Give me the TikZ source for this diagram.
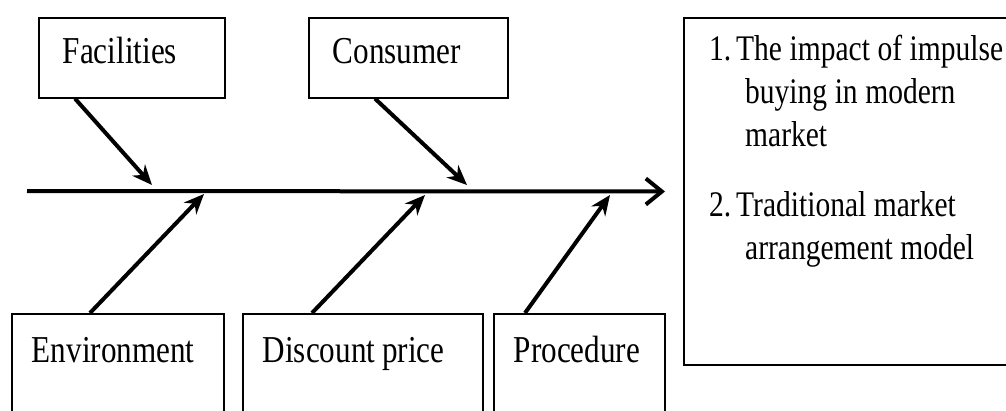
\documentclass[tikz,border=0pt]{standalone}
\usepackage{fontspec}
\setmainfont{Liberation Serif}[FakeStretch=0.82]
\usetikzlibrary{arrows.meta}
\newcommand{\narrowsp}{\spaceskip=0.21em plus 0.1em minus 0.05em\relax}
\tikzstyle{cause} = [rectangle, draw=black, line width=1.6pt, anchor=north west, inner ysep=0pt, font=\fontsize{38}{43}\selectfont]
\tikzstyle{topcause} = [cause, inner xsep=24pt, text height=46pt, text depth=34pt]
\tikzstyle{botcause} = [cause, inner xsep=20pt, text height=49pt, text depth=70pt]
\tikzstyle{effect} = [rectangle, draw=black, line width=2pt, anchor=north west, minimum width=360pt, minimum height=347pt, inner sep=0pt]
\tikzstyle{bone} = [line width=4pt, -{Stealth[length=20pt,width=17pt]}]
\tikzstyle{spine} = [line width=4pt, -{Straight Barb[length=16pt,width=26pt]}]

\begin{document}
\begin{tikzpicture}[x=1pt, y=-1pt]
\useasboundingbox (0,0) rectangle (1006,410);

% Effect box
\node (goal) [effect] at (683,17) {};
\node (aims) [anchor=base west, inner sep=0pt, font=\fontsize{36}{43}\selectfont\narrowsp] at ([xshift=26pt,yshift=-43pt]goal.north west) {%
\begin{tabular}[t]{@{}p{27pt}@{}l@{}}
1. & The impact of impulse\\
   & \hspace{9pt}buying in modern\\
   & \hspace{9pt}market\\[27pt]
2. & Traditional market\\
   & \hspace{9pt}arrangement model
\end{tabular}};

% Top causes
\node (fac) [topcause, text width=138pt] at (38,17) {Facilities};
\node (con) [topcause, text width=151pt] at (308,17) {Consumer};

% Bottom causes
\node (env) [botcause, text width=172pt] at (11,313) {Environment};
\node (dis) [botcause, text width=200pt] at (242,313) {Discount\hspace{7pt}price};
\node (pro) [botcause, text width=131pt] at (493,313) {Procedure};

% Points on the spine
\coordinate (tail) at (27,191);
\coordinate (fhit) at (152,185);
\coordinate (chit) at (467,185);
\coordinate (ehit) at (204,194);
\coordinate (dhit) at (425,195);
\coordinate (phit) at (610,195);

% Drawing arrows
\draw [spine] (tail) -- ([xshift=-18pt]goal.west);
\draw [bone] ([xshift=37pt]fac.south west) -- (fhit);
\draw [bone] ([xshift=67pt]con.south west) -- (chit);
\draw [bone] ([xshift=79pt]env.north west) -- (ehit);
\draw [bone] ([xshift=70pt]dis.north west) -- (dhit);
\draw [bone] ([xshift=32pt]pro.north west) -- (phit);

\end{tikzpicture}
\end{document}
